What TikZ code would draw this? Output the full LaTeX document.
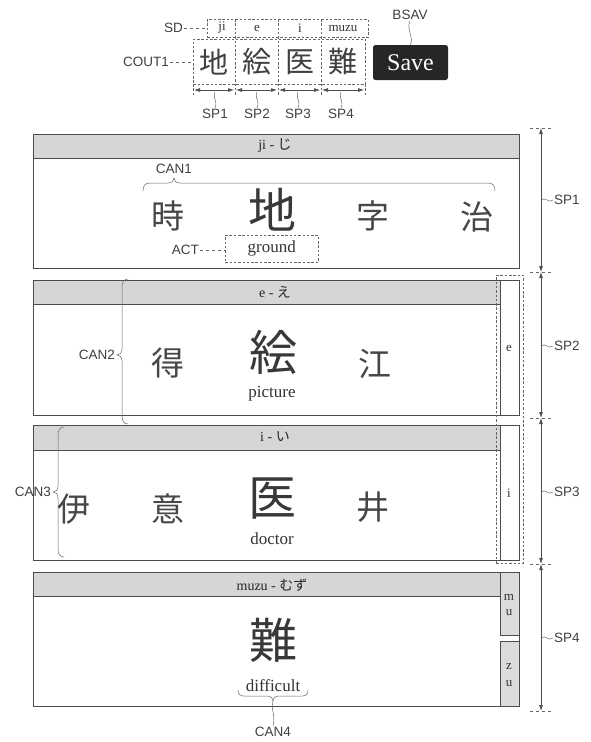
\documentclass[tikz,border=0pt]{standalone}
\usepackage{fontspec}
\setmainfont{Liberation Serif}
\newfontfamily\jpf{Noto Sans CJK JP}
\newfontfamily\lbf{Liberation Sans}
\usetikzlibrary{arrows.meta}
\newcommand\fsz[1]{\fontsize{#1}{#1}\selectfont}
\begin{document}
\begin{tikzpicture}[x=1pt,y=-1pt,
  panel/.style={draw=black!70, line width=0.9pt, inner sep=0, anchor=north west},
  hdr/.style={fill=black!16, draw=black!70, line width=0.9pt, inner sep=0, anchor=north west},
  sidebox/.style={fill=black!14, draw=black!70, line width=0.9pt, inner sep=0, anchor=north west},
  dbox/.style={draw=black!60, line width=0.6pt, dash pattern=on 2.5pt off 1.8pt},
  lbl/.style={font=\lbf\fsz{13.5}, text=black!75, inner sep=1pt},
  big/.style={font=\jpf\fsz{48}, inner sep=0, text=black!78},
  kan/.style={font=\jpf\fsz{33}, inner sep=0, text=black!72},
  ckan/.style={font=\jpf\fsz{29}, inner sep=0, text=black!75},
  ser/.style={font=\fsz{17}, inner sep=1pt, text=black!80},
  hdtxt/.style={font=\fsz{14}, inner sep=1pt, text=black!85},
  small/.style={font=\fsz{13}, inner sep=1pt, text=black!80},
  lead/.style={draw=black!60, line width=0.5pt},
  dimarr/.style={draw=black!70, line width=0.7pt, {Latex[length=6pt,width=4pt]}-{Latex[length=6pt,width=4pt]}}
]
\useasboundingbox (0,0) rectangle (590,742);
\fill[white] (0,0) rectangle (590,742);

% ---------------- top area ----------------
\node[dbox, inner sep=0, anchor=north west, minimum width=161, minimum height=18] (sdbox) at (207,19) {};
\node[dbox, inner sep=0, anchor=north west, minimum width=172, minimum height=45] (cout) at (193,39) {};
\foreach \xx in {235,278,321} {\draw[dbox] (\xx,19) -- (\xx,96);}
\draw[dbox] (193,84) -- (193,96);
\draw[dbox] (365,84) -- (365,96);

\node[small] (sdji) at (222,28) {ji};
\node[small] (sde) at (257,28) {e};
\node[small] (sdi) at (300,28) {i};
\node[small] (sdmuzu) at (343,28) {muzu};

\node[ckan] (c1) at (214,62) {地};
\node[ckan] (c2) at (257,62) {絵};
\node[ckan] (c3) at (300,62) {医};
\node[ckan] (c4) at (343,62) {難};

\node[lbl, anchor=east] (sd) at (184,28) {SD};
\draw[lead, dashed] (sd.east) -- (sdbox.west |- sd.east);
\node[lbl, anchor=east] (cout1) at (170,62) {COUT1};
\draw[lead, dashed] (cout1.east) -- (cout.west |- cout1.east);

\coordinate (t0) at (194,90);
\coordinate (t1a) at (234,90);
\coordinate (t1b) at (236,90);
\coordinate (t2a) at (277,90);
\coordinate (t2b) at (279,90);
\coordinate (t3a) at (320,90);
\coordinate (t3b) at (322,90);
\coordinate (t4) at (364,90);
\draw[dimarr] (t0) -- (t1a);
\draw[dimarr] (t1b) -- (t2a);
\draw[dimarr] (t2b) -- (t3a);
\draw[dimarr] (t3b) -- (t4);

\node[lbl] (tsp1) at (215,114) {SP1};
\node[lbl] (tsp2) at (257,114) {SP2};
\node[lbl] (tsp3) at (298,114) {SP3};
\node[lbl] (tsp4) at (341,114) {SP4};
\draw[lead] (215,92) .. controls (212,98) and (218,100) .. (tsp1.north);
\draw[lead] (257,92) .. controls (254,98) and (260,100) .. (tsp2.north);
\draw[lead] (298,92) .. controls (295,98) and (301,100) .. (tsp3.north);
\draw[lead] (341,92) .. controls (338,98) and (344,100) .. (tsp4.north);

\node[fill=black!85, rounded corners=2.5pt, text=white, font=\fsz{24}, minimum width=75, minimum height=35, inner sep=0] (save) at (410.5,62.5) {Save};
\node[lbl] (bsav) at (410,15) {BSAV};
\draw[lead] (bsav.south) .. controls (406,30) and (414,36) .. (save.north);

% ---------------- panel 1 ----------------
\node[hdr, minimum width=486, minimum height=24] (h1) at (33,134) {};
\node[panel, minimum width=486, minimum height=134] (p1) at (33,134) {};
\node[hdtxt] (h1t) at (275,146) {ji - {\jpf じ}};
\draw[lead] (143,191) .. controls (143,186) and (145,183) .. (150,183) -- (168,183)
  .. controls (172,183) and (174,181) .. (174,178) .. controls (174,181) and (176,183) .. (180,183)
  -- (488,183) .. controls (493,183) and (495,186) .. (495,191);
\node[lbl] (can1) at (174,169) {CAN1};
\node[kan] (k11) at (168,216) {時};
\node[big] (k12) at (272,210) {地};
\node[kan] (k13) at (373,216) {字};
\node[kan] (k14) at (477,217) {治};
\node[dbox, inner sep=0, anchor=north west, minimum width=93, minimum height=27] (actbox) at (225,235) {};
\node[ser] (ground) at (actbox.center) {ground};
\node[lbl, anchor=east] (act) at (200,250) {ACT};
\draw[lead, dashed] (act.east) -- (actbox.west |- act.east);

% ---------------- panel 2 ----------------
\node[hdr, minimum width=467, minimum height=24] (h2) at (33,280) {};
\node[panel, minimum width=486, minimum height=135] (p2) at (33,280) {};
\draw[draw=black!70, line width=0.9pt] (h2.north east) -- (h2.north east |- p2.south);
\node[hdtxt] (h2t) at (275,292) {e - {\jpf え}};
\node[small] (s2) at (509,348) {e};
\node[kan] (k21) at (168,363) {得};
\node[big] (k22) at (273,352) {絵};
\node[ser] (picture) at (272,394) {picture};
\node[kan] (k23) at (375,364) {江};
\draw[lead] (128,279) .. controls (124,279) and (122,282) .. (122,287) -- (122,349)
  .. controls (122,353) and (120,355) .. (117,355) .. controls (120,355) and (122,357) .. (122,361)
  -- (122,416) .. controls (122,421) and (124,424) .. (128,424);
\node[lbl, anchor=east] (can2) at (116,355) {CAN2};

% ---------------- panel 3 ----------------
\node[hdr, minimum width=467, minimum height=25] (h3) at (33,425) {};
\node[panel, minimum width=486, minimum height=135] (p3) at (33,425) {};
\draw[draw=black!70, line width=0.9pt] (h3.north east) -- (h3.north east |- p3.south);
\node[hdtxt] (h3t) at (275,437) {i - {\jpf い}};
\node[small] (s3) at (509,493) {i};
\node[kan] (k31) at (74,509) {伊};
\node[kan] (k32) at (168,509) {意};
\node[big] (k33) at (272,499) {医};
\node[ser] (doctor) at (272,539) {doctor};
\node[kan] (k34) at (373,507) {井};
\draw[lead] (64,427) .. controls (60,427) and (58,430) .. (58,435) -- (58,486)
  .. controls (58,490) and (56,492) .. (53,492) .. controls (56,492) and (58,494) .. (58,498)
  -- (58,549) .. controls (58,554) and (60,557) .. (64,557);
\node[lbl, anchor=east] (can3) at (52,492) {CAN3};

% dashed box around side columns of panels 2 and 3
\node[dbox, inner sep=0, anchor=north west, minimum width=27, minimum height=288] (sidedash) at (496,275) {};

% ---------------- panel 4 ----------------
\node[hdr, minimum width=467, minimum height=24] (h4) at (33,572) {};
\node[panel, minimum width=486, minimum height=134] (p4) at (33,572) {};
\node[sidebox, minimum width=19, minimum height=63] (mu) at (500,572) {};
\node[sidebox, minimum width=19, minimum height=65] (zu) at (500,641) {};
\node[hdtxt] (h4t) at (272,585) {muzu - {\jpf むず}};
\node[small] (sm) at (509,597) {m};
\node[small] (su1) at (509,613) {u};
\node[small] (sz) at (509,667) {z};
\node[small] (su2) at (509,684) {u};
\node[big] (k41) at (273,640) {難};
\node[ser] (difficult) at (273,686) {difficult};
\draw[lead] (238,690) .. controls (238,694) and (240,696) .. (244,696) -- (268,696)
  .. controls (271,696) and (273,698) .. (273,701) .. controls (273,698) and (275,696) .. (278,696)
  -- (302,696) .. controls (306,696) and (308,694) .. (308,690);
\node[lbl] (can4) at (273,732) {CAN4};
\draw[lead] (273,701) .. controls (270,708) and (276,714) .. (can4.north);

% ---------------- dimension on the right ----------------
\coordinate (d0) at (541,128);
\coordinate (d1) at (541,272);
\coordinate (d2) at (541,418);
\coordinate (d3) at (541,564);
\coordinate (d4) at (541,711);
\foreach \yy in {128,272,418,564,711} {\draw[lead, dashed] (530,\yy) -- (553,\yy);}
\draw[dimarr] (d0) -- (d1);
\draw[dimarr] (d1) -- (d2);
\draw[dimarr] (d2) -- (d3);
\draw[dimarr] (d3) -- (d4);
\node[lbl, anchor=west] (r1) at (553,200) {SP1};
\node[lbl, anchor=west] (r2) at (553,346) {SP2};
\node[lbl, anchor=west] (r3) at (553,492) {SP3};
\node[lbl, anchor=west] (r4) at (553,638) {SP4};
\draw[lead] (541,200) .. controls (545,196) and (549,204) .. (r1.west);
\draw[lead] (541,346) .. controls (545,342) and (549,350) .. (r2.west);
\draw[lead] (541,492) .. controls (545,488) and (549,496) .. (r3.west);
\draw[lead] (541,638) .. controls (545,634) and (549,642) .. (r4.west);
\end{tikzpicture}
\end{document}
